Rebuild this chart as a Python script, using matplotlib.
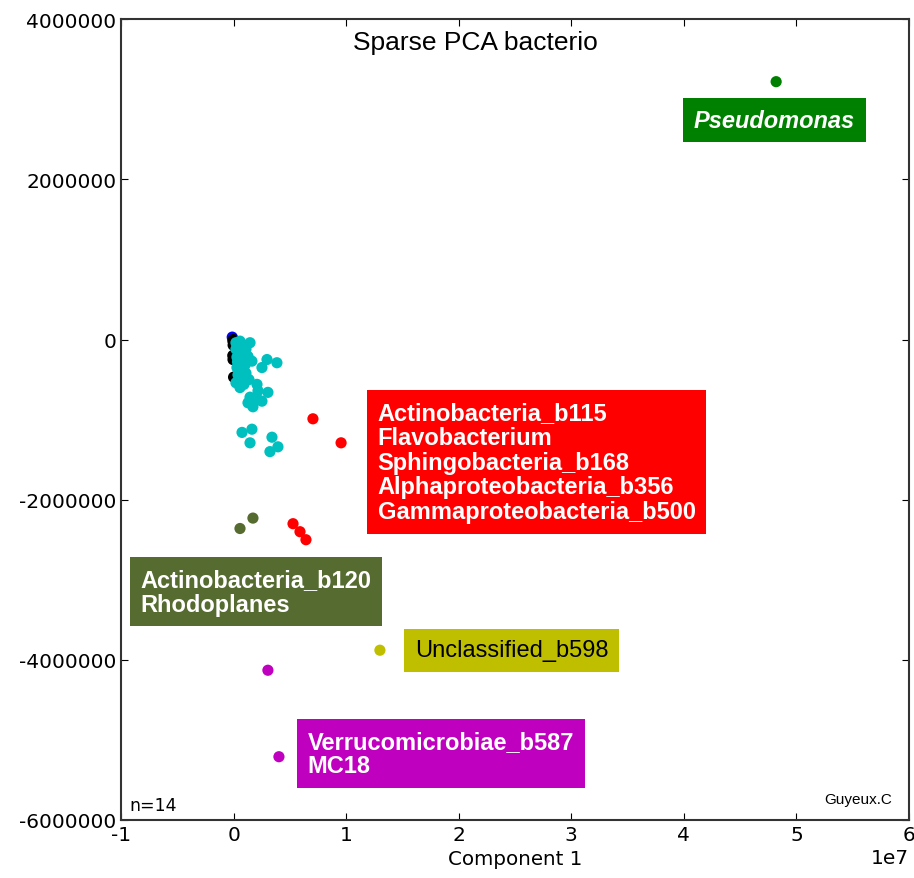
import numpy as np
import matplotlib
matplotlib.use("Agg")
import matplotlib.pyplot as plt
from matplotlib.ticker import ScalarFormatter

plt.rcParams["axes.unicode_minus"] = False

# points in units of 1e6
cyan_x = [0.21, 0.39, 0.57, 0.83, 0.21, 0.48, 0.75, 1.10, 1.46, 0.30, 0.57, 0.92, 1.28, 1.63,
          0.30, 0.66, 1.01, 0.39, 0.75, 1.10, 1.37, 0.92, 2.52, 2.97, 3.85, 2.08, 2.17, 3.05,
          1.46, 1.28, 1.72, 2.52, 2.17, 0.75, 1.63, 1.46, 3.41, 3.94, 3.23, 0.21, 0.57,
          0.45, 0.60, 0.35, 0.50, 0.80]
cyan_y = [-0.04, -0.06, -0.02, -0.07, -0.12, -0.15, -0.19, -0.12, -0.04, -0.22, -0.27, -0.25,
          -0.21, -0.27, -0.35, -0.37, -0.32, -0.44, -0.47, -0.42, -0.50, -0.56, -0.35, -0.25,
          -0.29, -0.56, -0.64, -0.66, -0.72, -0.79, -0.84, -0.77, -0.75, -1.16, -1.12, -1.29,
          -1.22, -1.34, -1.40, -0.54, -0.60,
          -0.09, -0.31, -0.28, -0.40, -0.33]
black_x = [-0.06, -0.04, -0.07, -0.05, 0.0, -0.03]
black_y = [-0.02, -0.07, -0.20, -0.25, -0.47, 0.0]
blue_x = [-0.12]
blue_y = [0.03]
red_x = [7.05, 9.55, 5.28, 5.90, 6.43]
red_y = [-0.99, -1.29, -2.30, -2.40, -2.50]
olive_x = [0.57, 1.72]
olive_y = [-2.36, -2.23]
yellow_x = [13.0]
yellow_y = [-3.88]
magenta_x = [3.05, 4.03]
magenta_y = [-4.13, -5.21]
green_x = [48.2]
green_y = [3.22]

olive = "#556b2f"

groups = [
    (blue_x, blue_y, "b"),
    (black_x, black_y, "k"),
    (cyan_x, cyan_y, "c"),
    (red_x, red_y, "r"),
    (olive_x, olive_y, olive),
    (yellow_x, yellow_y, "y"),
    (magenta_x, magenta_y, "m"),
    (green_x, green_y, "g"),
]

labels = [
    # text, x, y (1e6 units), box colour, text colour, bold, italic
    ("Pseudomonas", 40.9, 2.74, "g", "white", True, True),
    ("Actinobacteria_b115\nFlavobacterium\nSphingobacteria_b168\nAlphaproteobacteria_b356\nGammaproteobacteria_b500",
     12.8, -1.53, "r", "white", True, False),
    ("Actinobacteria_b120\nRhodoplanes", -8.3, -3.15, olive, "white", True, False),
    ("Unclassified_b598", 16.1, -3.88, "y", "black", False, False),
    ("Verrucomicrobiae_b587\nMC18", 6.6, -5.17, "m", "white", True, False),
]

fig = plt.figure(figsize=(9.14, 8.79), dpi=100)
ax = fig.add_axes([0.1324, 0.066, 0.8621, 0.911])

for xs, ys, col in groups:
    ax.scatter(np.array(xs) * 1e6, np.array(ys) * 1e6, s=65, c=col, edgecolors="none", zorder=3)

for txt, x, y, bc, tc, bold, ital in labels:
    ax.text(x * 1e6, y * 1e6, txt, ha="left", va="center", color=tc,
            fontsize=17, family="Liberation Sans", linespacing=1.1,
            fontweight="bold" if bold else "normal",
            fontstyle="italic" if ital else "normal",
            bbox=dict(boxstyle="square,pad=0.45", fc=bc, ec="none"))

ax.text(21.5e6, 3.72e6, "Sparse PCA bacterio", ha="center", va="center",
        fontsize=19, family="Liberation Sans")
ax.text(0.01, 0.008, "n=14", transform=ax.transAxes, fontsize=12.5, ha="left", va="bottom")
ax.text(0.978, 0.018, "Guyeux.C", transform=ax.transAxes, fontsize=11, ha="right", va="bottom",
        family="Liberation Sans")

ax.set_xlim(-1e7, 6e7)
ax.set_ylim(-6e6, 4e6)
ax.set_yticks([-6e6, -4e6, -2e6, 0, 2e6, 4e6])
yf = ScalarFormatter(useOffset=False)
yf.set_scientific(False)
ax.yaxis.set_major_formatter(yf)
ax.tick_params(direction="in", top=True, right=True, labelsize=14.5, length=5)
ax.xaxis.get_offset_text().set_fontsize(14.5)
ax.set_xlabel("Component 1", fontsize=14.3)
for s in ax.spines.values():
    s.set_color("#333333")
    s.set_linewidth(1.5)

fig.savefig("out.png", dpi=100)
